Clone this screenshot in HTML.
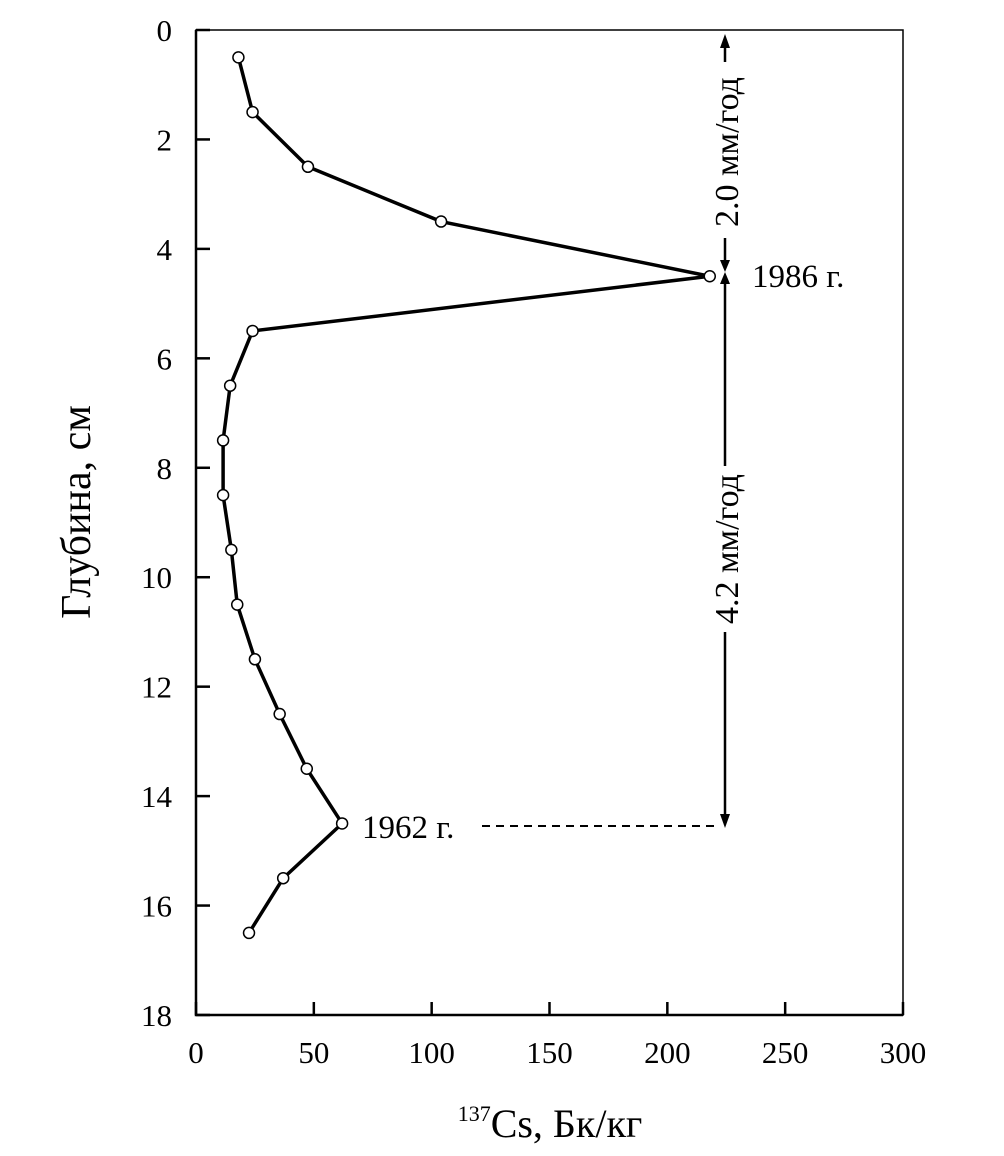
<!DOCTYPE html>
<html><head><meta charset="utf-8"><style>
body{margin:0;background:#fff}
text{font-family:"Liberation Serif",serif;fill:#000}
</style></head><body>
<svg width="1004" height="1151" viewBox="0 0 1004 1151">
<g id="frame"></g>
<g id="marks"></g>
<g id="annot">
  <line x1="725" y1="40" x2="725" y2="62" stroke="#000" stroke-width="2.5"/>
  <line x1="725" y1="238" x2="725" y2="262" stroke="#000" stroke-width="2.5"/>
  <polygon points="725,34 720,48 730,48" fill="#000"/>
  <polygon points="725,272 720,260 730,260" fill="#000"/>
  <polygon points="725,272 720,284 730,284" fill="#000"/>
  <line x1="725" y1="282" x2="725" y2="466" stroke="#000" stroke-width="2.5"/>
  <line x1="725" y1="632" x2="725" y2="816" stroke="#000" stroke-width="2.5"/>
  <polygon points="725,828 720,814 730,814" fill="#000"/>
  <line x1="482" y1="826" x2="720" y2="826" stroke="#000" stroke-width="2" stroke-dasharray="8,6"/>
  <text transform="translate(738,152) rotate(-90)" font-size="34" text-anchor="middle">2.0 мм/год</text>
  <text transform="translate(738,549) rotate(-90)" font-size="34" text-anchor="middle">4.2 мм/год</text>
  <text x="752" y="287" font-size="33">1986 г.</text>
  <text x="362" y="838" font-size="33">1962 г.</text>
</g>
<text transform="translate(90,512) rotate(-90)" font-size="42" text-anchor="middle">Глубина, см</text>
<text x="550" y="1137" font-size="40" text-anchor="middle"><tspan font-size="22" dy="-16">137</tspan><tspan dy="16">Cs, Бк/кг</tspan></text>
</svg>
<script>
const depths=[0.5,1.5,2.5,3.5,4.5,5.5,6.5,7.5,8.5,9.5,10.5,11.5,12.5,13.5,14.5,15.5,16.5];
const activity=[18,24,47.5,104,218,24,14.5,11.5,11.5,15,17.5,25,35.5,47,62,37,22.5];
const xTicks=[0,50,100,150,200,250,300];
const yTicks=[0,2,4,6,8,10,12,14,16,18];
const L=196,R=903,T=30,B=1015;
const xs=v=>L+(v/300)*(R-L);
const ys=v=>T+(v/18)*(B-T);
const NS='http://www.w3.org/2000/svg';
function mk(tag,attrs,parent){const e=document.createElementNS(NS,tag);for(const k in attrs)e.setAttribute(k,attrs[k]);parent.appendChild(e);return e;}
const fr=document.getElementById('frame');
const box=mk('rect',{x:L,y:T,width:R-L,height:B-T,fill:'none',stroke:'#000','stroke-width':1.5},fr);


const ax=mk('path',{d:`M${L},${T} V${B} H${R}`,fill:'none',stroke:'#000','stroke-width':2.5},fr);


xTicks.forEach(t=>{
  const x=xs(t);
  const tk=mk('line',{x1:x,y1:B,x2:x,y2:B-13,stroke:'#000','stroke-width':2.5},fr);
  
  
  const tx=mk('text',{x:x,y:B+48,'font-size':31,'text-anchor':'middle'},fr);
  tx.textContent=t;
  
  
});
yTicks.forEach(t=>{
  const y=ys(t);
  const tk=mk('line',{x1:L,y1:y,x2:L+14,y2:y,stroke:'#000','stroke-width':2.5},fr);
  
  
  const tx=mk('text',{x:172,y:y+11,'font-size':31,'text-anchor':'end'},fr);
  tx.textContent=t;
  
  
});
const mg=document.getElementById('marks');
const pts=depths.map((d,i)=>xs(activity[i])+','+ys(d)).join(' ');
const pl=mk('polyline',{points:pts,fill:'none',stroke:'#000','stroke-width':3.5,'stroke-linejoin':'miter'},mg);


depths.forEach((d,i)=>{
  const c=mk('circle',{cx:xs(activity[i]),cy:ys(d),r:5.5,fill:'#fff',stroke:'#000','stroke-width':1.5},mg);
  
  
});
</script>
</body></html>
